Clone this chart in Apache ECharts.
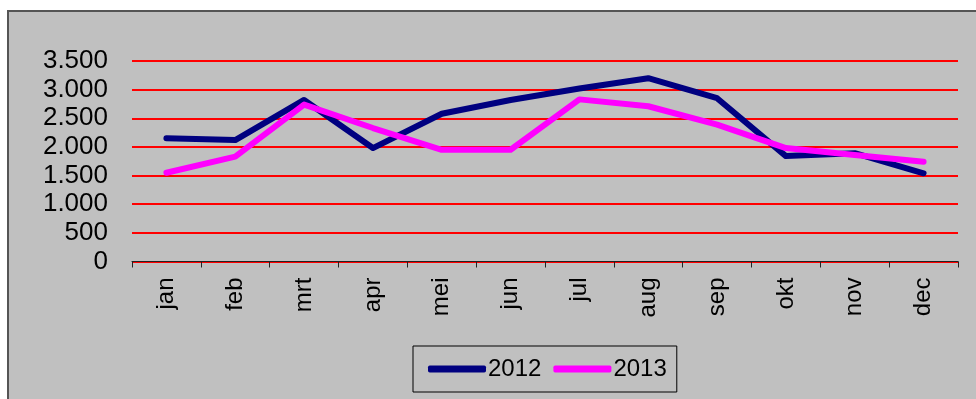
<!DOCTYPE html>
<html>
<head>
<meta charset="utf-8">
<script src="https://cdn.jsdelivr.net/npm/echarts@6/dist/echarts.min.js"></script>
<style>
  html, body { margin: 0; padding: 0; background: #fff; }
  #chart { width: 976px; height: 399px; }
</style>
</head>
<body>
<div id="chart"></div>
<script>
// Monthly figures for two years
const months = ['jan', 'feb', 'mrt', 'apr', 'mei', 'jun', 'jul', 'aug', 'sep', 'okt', 'nov', 'dec'];
const values2012 = [2150, 2120, 2820, 1980, 2580, 2820, 3020, 3200, 2850, 1840, 1890, 1540];
const values2013 = [1550, 1830, 2740, 2330, 1950, 1950, 2830, 2710, 2390, 1980, 1860, 1740];
const yTicks = { min: 0, max: 3500, step: 500 };

const FONT = 'Liberation Sans, Arial, sans-serif';

function dotted(n) {
  return String(n).replace(/\B(?=(\d{3})+(?!\d))/g, '.');
}

const chart = echarts.init(document.getElementById('chart'), null, { renderer: 'canvas' });
chart.setOption({
  backgroundColor: '#ffffff',
  animation: false,
  graphic: [{
    type: 'rect',
    z: -10,
    shape: { x: 8, y: 11, width: 1000, height: 420 },
    style: { fill: '#c0c0c0', stroke: '#555555', lineWidth: 2 }
  }],
  grid: { left: 132, right: 18, top: 61, bottom: 137.5, containLabel: false },
  legend: {
    left: 413,
    top: 346,
    padding: [11, 10, 11, 15],
    borderColor: '#000000',
    borderWidth: 1,
    itemGap: 12,
    itemWidth: 58,
    itemHeight: 7,
    icon: 'roundRect',
    textStyle: { fontFamily: FONT, fontSize: 24, color: '#000', padding: [0, 0, 0, -3] },
    data: ['2012', '2013']
  },
  xAxis: {
    type: 'category',
    data: months,
    boundaryGap: true,
    axisLine: { lineStyle: { color: '#222', width: 1 } },
    axisTick: { show: true, interval: 0, length: 6, lineStyle: { color: '#222' } },
    axisLabel: { rotate: 90, margin: 16, interval: 0, fontFamily: FONT, fontSize: 24, color: '#000' },
    splitLine: { show: false }
  },
  yAxis: {
    type: 'value',
    min: yTicks.min,
    max: yTicks.max,
    interval: yTicks.step,
    axisLine: { show: false },
    axisTick: { show: false },
    axisLabel: { margin: 24, fontFamily: FONT, fontSize: 26, color: '#000', formatter: v => dotted(v) },
    splitLine: { lineStyle: { color: '#ff0000', width: 2 } }
  },
  series: [
    {
      name: '2012', type: 'line', data: values2012, symbol: 'none',
      itemStyle: { color: '#000080' },
      lineStyle: { color: '#000080', width: 6, cap: 'round', join: 'round' },
      z: 2
    },
    {
      name: '2013', type: 'line', data: values2013, symbol: 'none',
      itemStyle: { color: '#ff00ff' },
      lineStyle: { color: '#ff00ff', width: 6, cap: 'round', join: 'round' },
      z: 3
    }
  ]
});
</script>
</body>
</html>
